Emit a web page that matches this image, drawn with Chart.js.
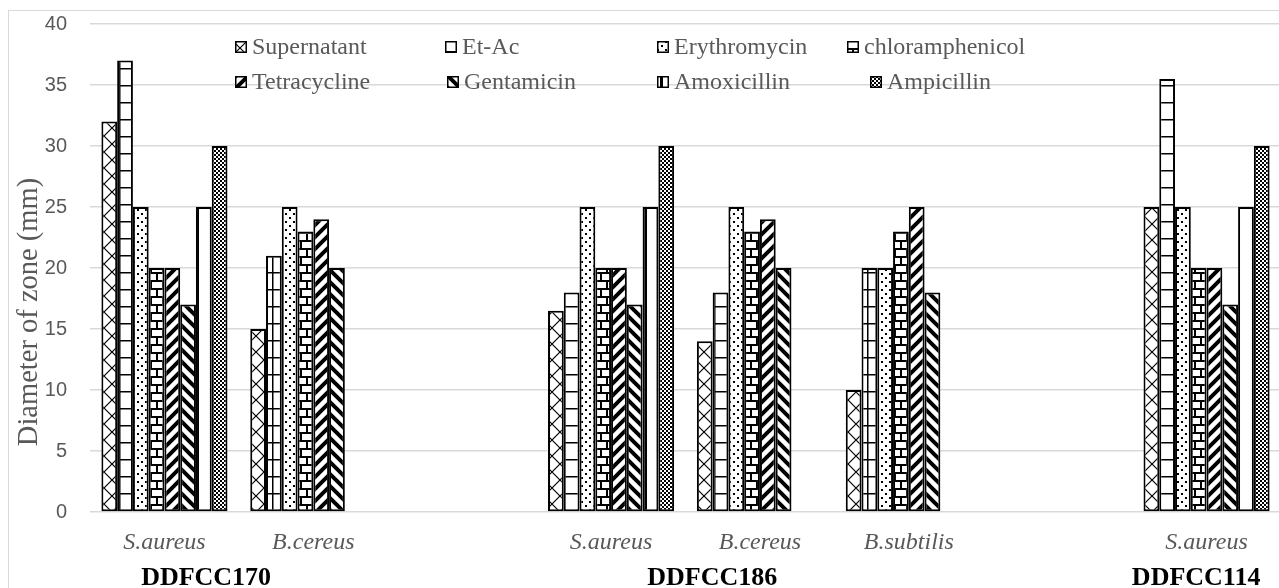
<!DOCTYPE html>
<html>
<head>
<meta charset="utf-8">
<script src="https://cdn.jsdelivr.net/npm/chart.js@4"></script>
<style>
  html, body { margin: 0; padding: 0; background: #fff; overflow: hidden; }
  #wrap { position: relative; width: 1282px; height: 588px; }
</style>
</head>
<body>
<div id="wrap"><canvas id="myChart"></canvas></div>
<script>
// data
const categories = ['S.aureus', 'B.cereus', '', 'S.aureus', 'B.cereus', 'B.subtilis', '', 'S.aureus'];
const seriesNames = ['Supernatant', 'Et-Ac', 'Erythromycin', 'chloramphenicol',
                     'Tetracycline', 'Gentamicin', 'Amoxicillin', 'Ampicillin'];
const supernatant     = [32, 15, null, 16.5, 14, 10, null, 25];
const etAc            = [37, 21, null, 18, 18, 20, null, 35.5];
const erythromycin    = [25, 25, null, 25, 25, 20, null, 25];
const chloramphenicol = [20, 23, null, 20, 23, 23, null, 20];
const tetracycline    = [20, 24, null, 20, 24, 25, null, 20];
const gentamicin      = [17, 20, null, 17, 20, 18, null, 17];
const amoxicillin     = [25, null, null, 25, null, null, null, 25];
const ampicillin      = [30, null, null, 30, null, null, null, 30];
const yMin = 0, yMax = 40, yStep = 5;
const groupLabels = ['DDFCC170', 'DDFCC186', 'DDFCC114'];
const groupAt = [0.28, 3.68, 6.93]; // position in category units

const grey = '#595959';
const gridGrey = '#d9d9d9';

// black and white fill patterns
function makeTile(w, h, draw) {
    const c = document.createElement('canvas');
    c.width = w; c.height = h;
    const g = c.getContext('2d');
    g.fillStyle = '#fff';
    g.fillRect(0, 0, w, h);
    g.fillStyle = '#000';
    g.strokeStyle = '#000';
    draw(g);
    return g.createPattern(c, 'repeat');
}

const patterns = [
    makeTile(16, 16, g => { // diagonal cross
        g.lineWidth = 1.2;
        g.beginPath();
        g.moveTo(0, 0); g.lineTo(16, 16);
        g.moveTo(16, 0); g.lineTo(0, 16);
        g.stroke();
    }),
    makeTile(17, 17, g => { // large grid
        g.fillRect(0, 0, 17, 1.5);
        g.fillRect(0, 0, 1.5, 17);
    }),
    makeTile(8, 8, g => { // dots
        g.fillRect(1, 1, 2, 2);
        g.fillRect(5, 5, 2, 2);
    }),
    makeTile(12, 16, g => { // horizontal brick
        g.fillRect(0, 0, 12, 2);
        g.fillRect(0, 8, 12, 2);
        g.fillRect(0, 0, 2, 8);
        g.fillRect(6, 8, 2, 8);
    }),
    makeTile(12, 12, g => { // wide upward diagonal
        g.lineWidth = 4;
        g.beginPath();
        g.moveTo(-1, 13); g.lineTo(13, -1);
        g.moveTo(-7, 7); g.lineTo(7, -7);
        g.moveTo(5, 19); g.lineTo(19, 5);
        g.stroke();
    }),
    makeTile(12, 12, g => { // wide downward diagonal
        g.lineWidth = 4;
        g.beginPath();
        g.moveTo(-1, -1); g.lineTo(13, 13);
        g.moveTo(-7, 5); g.lineTo(7, 19);
        g.moveTo(5, -7); g.lineTo(19, 7);
        g.stroke();
    }),
    makeTile(16, 4, g => { // wide vertical
        g.fillRect(4, 0, 3, 4);
    }),
    makeTile(4, 4, g => { // small checker
        g.fillRect(0, 0, 2, 2);
        g.fillRect(2, 2, 2, 2);
    })
];

const seriesData = [supernatant, etAc, erythromycin, chloramphenicol,
                    tetracycline, gentamicin, amoxicillin, ampicillin];

const datasets = seriesNames.map((name, i) => ({
    label: name,
    data: seriesData[i],
    backgroundColor: patterns[i],
    borderColor: '#000',
    borderWidth: 2,
    borderSkipped: false,
    categoryPercentage: 0.847,
    barPercentage: 1.0
}));

// legend spots: two rows of four
const legendX = [[235, 445, 657, 847], [235, 447, 657, 870]];
const legendY = [47, 82];

const extras = {
    id: 'extras',
    beforeDraw(chart) {
        const c = chart.ctx;
        c.save();
        c.fillStyle = '#fff';
        c.fillRect(0, 0, chart.width, chart.height);
        c.strokeStyle = gridGrey;
        c.lineWidth = 1;
        c.strokeRect(8.5, 10.5, chart.width + 20, chart.height + 20);
        c.restore();
    },
    afterDraw(chart) {
        const c = chart.ctx;
        const xs = chart.scales.x;
        c.save();

        // legend
        c.font = '24px "Liberation Serif"';
        c.textBaseline = 'middle';
        c.textAlign = 'left';
        chart.data.datasets.forEach((ds, i) => {
            const row = Math.floor(i / 4), col = i % 4;
            const x = legendX[row][col], y = legendY[row];
            c.fillStyle = ds.backgroundColor;
            c.fillRect(x, y - 6, 12, 12);
            c.strokeStyle = '#000';
            c.lineWidth = 1.5;
            c.strokeRect(x + 0.75, y - 5.25, 10.5, 10.5);
            c.fillStyle = grey;
            c.fillText(ds.label, x + 17, y + 1);
        });

        // group labels under the categories
        const p0 = xs.getPixelForValue(0);
        const step = xs.getPixelForValue(1) - p0;
        c.font = 'bold 26px "Liberation Serif"';
        c.fillStyle = '#000';
        c.textAlign = 'center';
        c.textBaseline = 'alphabetic';
        groupLabels.forEach((t, i) => {
            c.fillText(t, p0 + groupAt[i] * step, 585);
        });

        // y axis title
        c.translate(37, 312);
        c.rotate(-Math.PI / 2);
        c.font = '28.5px "Liberation Serif"';
        c.fillStyle = grey;
        c.textAlign = 'center';
        c.fillText('Diameter of zone (mm)', 0, 0);
        c.restore();
    }
};

const ctx = document.getElementById('myChart');

new Chart(ctx, {
    type: 'bar',
    data: {
        labels: categories,
        datasets: datasets
    },
    options: {
        responsive: true,
        maintainAspectRatio: false,
        animation: false,
        devicePixelRatio: 1,
        layout: { padding: { top: 24, right: 1, bottom: 0, left: 0 } },
        plugins: {
            legend: { display: false },
            tooltip: { enabled: false }
        },
        scales: {
            x: {
                grid: { display: false, drawTicks: false },
                border: { display: false },
                ticks: {
                    color: grey,
                    padding: 16,
                    maxRotation: 0,
                    autoSkip: false,
                    font: { family: 'Liberation Serif', size: 24, style: 'italic' }
                },
                afterFit(s) { s.height = 76; }
            },
            y: {
                min: yMin,
                max: yMax,
                grid: { color: gridGrey, lineWidth: 1.5, drawTicks: false },
                border: { display: false },
                ticks: {
                    stepSize: yStep,
                    color: grey,
                    padding: 23,
                    font: { family: 'Liberation Sans', size: 20 }
                },
                afterFit(s) {
                    s.width = 90;
                    s.paddingTop = 12;
                    s.paddingBottom = 12;
                }
            }
        }
    },
    plugins: [extras]
});
</script>
</body>
</html>
